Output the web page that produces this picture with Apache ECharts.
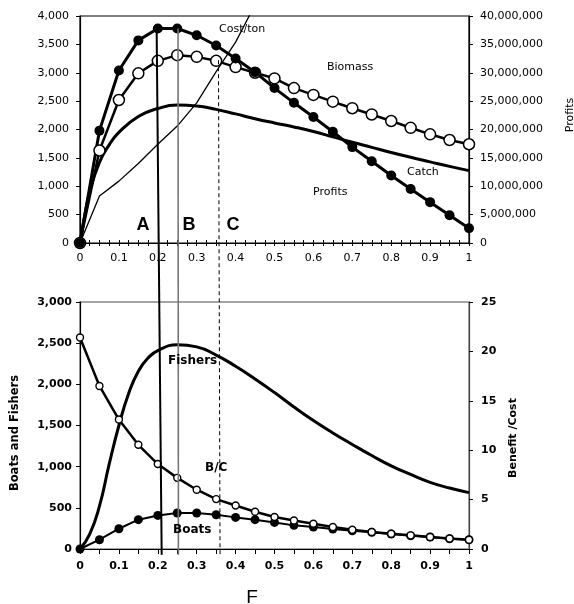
<!DOCTYPE html>
<html><head><meta charset="utf-8">
<script src="https://cdn.jsdelivr.net/npm/echarts@6/dist/echarts.min.js"></script>
<style>html,body{margin:0;padding:0;background:#fff}#c{width:574px;height:604px}</style>
</head><body><div id="c"></div>
<script>
// ---- data ----
const F = [0,0.05,0.1,0.15,0.2,0.25,0.3,0.35,0.4,0.45,0.5,0.55,0.6,0.65,0.7,0.75,0.8,0.85,0.9,0.95,1];
// top panel
const profits = [0,19800000,30400000,35700000,37800000,37800000,36600000,34800000,32500000,30100000,27300000,24700000,22200000,19600000,16900000,14400000,11900000,9500000,7200000,4900000,2600000];
const biomass = [0,1630,2520,2990,3210,3310,3280,3210,3100,3000,2900,2730,2610,2490,2375,2265,2150,2030,1915,1815,1740];
const catchF = [0,0.0125,0.025,0.05,0.075,0.1,0.15,0.2,0.25,0.3,0.35,0.4,0.45,0.5,0.55,0.6,0.65,0.7,0.75,0.8,0.85,0.9,0.95,1];
const catchV = [0,500,900,1420,1730,1950,2230,2370,2430,2415,2355,2275,2190,2115,2045,1965,1870,1775,1685,1595,1510,1430,1350,1275];
const costF = [0,0.05,0.1,0.15,0.2,0.25,0.3,0.35,0.4,0.45];
const costV = [0,830,1090,1400,1740,2060,2470,3020,3540,4200];
// bottom panel
const boats = [0,113,246,356,408,437,437,416,384,356,323,287,267,243,222,202,182,161,146,125,113];
const benefitCost = [21.4,16.5,13.1,10.55,8.6,7.2,6.0,5.05,4.4,3.77,3.24,2.89,2.56,2.23,1.95,1.72,1.55,1.38,1.21,1.07,0.94];
const fishF = [0,0.025,0.05,0.075,0.1,0.125,0.15,0.175,0.2,0.25,0.3,0.35,0.4,0.45,0.5,0.55,0.6,0.65,0.7,0.75,0.8,0.85,0.9,0.95,1];
const fishV = [0,180,520,1030,1500,1890,2160,2320,2410,2480,2455,2355,2220,2065,1900,1725,1560,1410,1270,1135,1010,905,810,740,685];
// reference lines A, B, C: [F at top, value at top (top panel), F at bottom, value at bottom (bottom panel)]
const refA = [0.197, 3780, 0.210, -70];
const refB = [0.252, 3780, 0.253, -70];
const refC = [0.356, 3220, 0.360, -70];

const pairs = (xs, ys) => xs.map((x, i) => [x, ys[i]]);
const fmt = v => v.toLocaleString('en-US');
const FONT = 'DejaVu Sans';

const chart = echarts.init(document.getElementById('c'), null, {renderer: 'canvas'});

function xAxisCfg(grid, bottomPanel) {
  return {
    gridIndex: grid, type: 'value', min: 0, max: 1, interval: 0.1, position: 'bottom',
    axisLine: {show: true, onZero: false, lineStyle: {color: '#000', width: 1.2}},
    axisTick: {show: true, length: bottomPanel ? 5 : 3, lineStyle: {color: '#000'}},
    minorTick: {show: true, splitNumber: bottomPanel ? 2 : 4, length: bottomPanel ? 5 : 3, lineStyle: {color: '#000'}},
    splitLine: {show: false}, minorSplitLine: {show: false},
    axisLabel: {color: '#000', fontFamily: FONT, fontSize: 11, fontWeight: bottomPanel ? 'bold' : 'normal', margin: bottomPanel ? 12 : 10}
  };
}
function yAxisCfg(grid, pos, max, interval, bold, lineColor) {
  return {
    gridIndex: grid, type: 'value', position: pos, min: 0, max: max, interval: interval,
    axisLine: {show: true, onZero: false, lineStyle: {color: lineColor || '#000', width: 1.2}},
    axisTick: {show: true, length: 4, lineStyle: {color: '#000'}},
    splitLine: {show: false},
    axisLabel: {color: '#000', fontFamily: FONT, fontSize: 11, fontWeight: bold ? 'bold' : 'normal',
      margin: pos === 'left' ? (bold ? 8 : 11) : (bold ? 12 : 11), formatter: v => fmt(v)}
  };
}

const topX2 = Object.assign(xAxisCfg(0, false), {
  axisLine: {show: false}, axisLabel: {show: false},
  axisTick: {show: true, inside: true, length: 3, lineStyle: {color: '#000'}},
  minorTick: {show: true, splitNumber: 4, length: 3, lineStyle: {color: '#000'}}
});

const option = {
  animation: false,
  backgroundColor: '#fff',
  grid: [
    {left: 80, right: 105, top: 16, height: 227, show: true, borderColor: '#000', borderWidth: 1.2, backgroundColor: 'transparent'},
    {left: 80, right: 105, top: 302, height: 247, show: true, borderColor: '#888', borderWidth: 1.5, backgroundColor: 'transparent'}
  ],
  xAxis: [xAxisCfg(0, false), xAxisCfg(1, true), topX2],
  yAxis: [
    yAxisCfg(0, 'left', 4000, 500, false),
    yAxisCfg(0, 'right', 40000000, 5000000, false),
    yAxisCfg(1, 'left', 3000, 500, true),
    yAxisCfg(1, 'right', 25, 5, true, '#444')
  ],
  series: [
    {name: 'Catch', type: 'line', xAxisIndex: 0, yAxisIndex: 0, data: pairs(catchF, catchV),
      smooth: 0.5, showSymbol: false, lineStyle: {color: '#000', width: 3}},
    {name: 'Cost/ton', type: 'line', xAxisIndex: 0, yAxisIndex: 0, data: pairs(costF, costV),
      showSymbol: false, clip: true, lineStyle: {color: '#000', width: 1.3}},
    {name: 'Biomass', type: 'line', xAxisIndex: 0, yAxisIndex: 0, data: pairs(F, biomass),
      symbol: 'circle', symbolSize: 11, showSymbol: true,
      itemStyle: {color: '#fff', borderColor: '#000', borderWidth: 1.5},
      lineStyle: {color: '#000', width: 2.5}},
    {name: 'Profits', type: 'line', xAxisIndex: 0, yAxisIndex: 1, data: pairs(F, profits),
      symbol: 'circle', symbolSize: 10, showSymbol: true,
      itemStyle: {color: '#000', borderColor: '#000', borderWidth: 0},
      lineStyle: {color: '#000', width: 3}},
    {name: 'Fishers', type: 'line', xAxisIndex: 1, yAxisIndex: 2, data: pairs(fishF, fishV),
      smooth: 0.5, showSymbol: false, lineStyle: {color: '#000', width: 3}},
    {name: 'Boats', type: 'line', xAxisIndex: 1, yAxisIndex: 2, data: pairs(F, boats),
      symbol: 'circle', symbolSize: 9, showSymbol: true,
      itemStyle: {color: '#000', borderWidth: 0}, lineStyle: {color: '#000', width: 2}},
    {name: 'B/C', type: 'line', xAxisIndex: 1, yAxisIndex: 3, data: pairs(F, benefitCost),
      symbol: 'circle', symbolSize: 7, showSymbol: true,
      itemStyle: {color: '#fff', borderColor: '#000', borderWidth: 1.4}, lineStyle: {color: '#000', width: 2.5}}
  ]
};
chart.setOption(option);

function refLine(r, color, width, dash) {
  const p1 = chart.convertToPixel({xAxisIndex: 0, yAxisIndex: 0}, [r[0], r[1]]);
  const p2 = chart.convertToPixel({xAxisIndex: 1, yAxisIndex: 2}, [r[2], r[3]]);
  return {type: 'line', z: 100, shape: {x1: p1[0], y1: p1[1], x2: p2[0], y2: p2[1]},
    style: {stroke: color, lineWidth: width, lineDash: dash || null}};
}
function txt(x, y, t, size, weight, align, rot, family) {
  return {type: 'text', x: x, y: y, z: 101, rotation: rot || 0,
    style: {text: t, fill: '#000', font: (weight || 'normal') + ' ' + size + 'px "' + (family || FONT) + '"',
      textAlign: align || 'left', textVerticalAlign: 'middle'}};
}

chart.setOption({
  graphic: [
    refLine(refA, '#000', 2),
    refLine(refB, '#777', 1.6),
    refLine(refC, '#000', 1, [4, 3]),
    txt(143, 225, 'A', 18, 'bold', 'center', 0, 'Liberation Sans'),
    txt(189, 225, 'B', 18, 'bold', 'center', 0, 'Liberation Sans'),
    txt(233, 225, 'C', 18, 'bold', 'center', 0, 'Liberation Sans'),
    txt(219, 29, 'Cost/ton', 11),
    txt(327, 67, 'Biomass', 11),
    txt(407, 172, 'Catch', 11),
    txt(313, 192, 'Profits', 11),
    txt(168, 361, 'Fishers', 12, 'bold'),
    txt(205, 468, 'B/C', 12, 'bold'),
    txt(173, 530, 'Boats', 12, 'bold'),
    txt(252, 598, 'F', 19, 'normal', 'center', 0, 'Liberation Sans'),
    txt(570, 115, 'Profits', 11, 'normal', 'center', Math.PI / 2),
    txt(15, 433, 'Boats and Fishers', 11.5, 'bold', 'center', Math.PI / 2),
    txt(513, 438, 'Benefit /Cost', 11, 'bold', 'center', Math.PI / 2)
  ]
});
</script>
</body></html>
